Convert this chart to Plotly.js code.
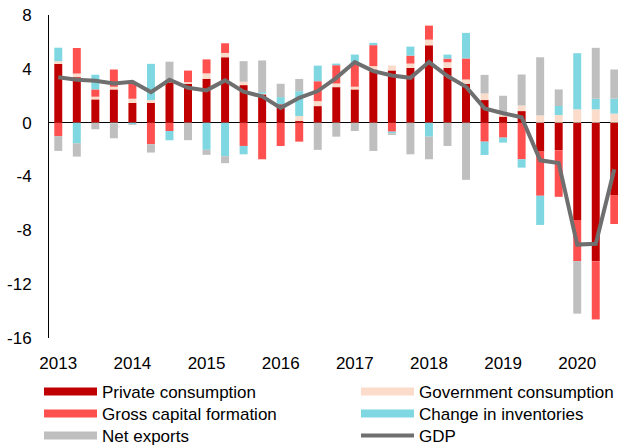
<!DOCTYPE html>
<html>
<head>
<meta charset="utf-8">
<script src="https://cdn.plot.ly/plotly-3.0.1.min.js"></script>
<style>html,body{margin:0;padding:0;background:#fff;}#chart{width:618px;height:448px;}</style>
</head>
<body>
<div id="chart"></div>
<script>
// Quarters 2013Q1 .. 2020Q3
const quarters = ["2013Q1","2013Q2","2013Q3","2013Q4","2014Q1","2014Q2","2014Q3","2014Q4",
  "2015Q1","2015Q2","2015Q3","2015Q4","2016Q1","2016Q2","2016Q3","2016Q4",
  "2017Q1","2017Q2","2017Q3","2017Q4","2018Q1","2018Q2","2018Q3","2018Q4",
  "2019Q1","2019Q2","2019Q3","2019Q4","2020Q1","2020Q2","2020Q3"];
const yearTickLabels = ["2013","2014","2015","2016","2017","2018","2019","2020"];
const yearTickQuarters = ["2013Q1","2014Q1","2015Q1","2016Q1","2017Q1","2018Q1","2019Q1","2020Q1"];
const yTickValues = [8,4,0,-4,-8,-12,-16];
const yTickLabels = ["8","4","0","-4","-8","-12","-16"];

const privateConsumption = [4.37,3.38,1.73,2.47,1.46,1.46,3.0,2.89,3.26,4.86,2.79,2.1,1.36,0.12,1.23,2.64,
  2.47,3.95,3.88,4.07,5.75,4.07,2.89,1.68,0.45,0.86,-2.15,-2.05,-7.23,-10.3,-5.38];
const governmentConsumption = [0.2,0.27,0.2,0.2,0.32,0.22,0.05,0.12,0.4,0.32,0.25,0.05,0.0,0.37,0.37,0.27,
  0.2,0.25,0.37,0.32,0.42,0.42,0.32,0.49,0.25,0.42,0.54,0.57,0.99,0.99,0.67];
const grossCapitalFormation = [-1.0,1.9,0.54,1.28,1.11,-1.6,-0.62,0.86,1.04,0.72,-1.73,-2.72,-1.73,-1.41,1.48,1.36,
  1.7,1.56,-0.67,0.59,1.04,0.27,1.56,-1.41,-1.11,-2.72,-3.28,-3.46,-3.06,-4.32,-2.15];
const changeInInventories = [1.0,-1.53,1.09,-0.05,-0.12,2.69,-0.69,0.0,-2.02,-2.49,-0.62,0.12,0.54,1.85,1.16,0.12,
  0.69,0.17,-0.12,0.67,-1.04,0.3,1.9,-0.99,-0.37,-0.62,-2.17,0.67,4.17,0.79,1.11];
const netExports = [-1.1,-0.99,-0.49,-1.11,-0.05,-0.62,1.48,-1.3,-0.37,-0.52,1.53,2.35,0.99,0.91,-2.02,-1.04,
  -0.62,-2.1,-0.12,-2.35,-1.68,-1.73,-4.25,1.38,1.3,2.3,4.32,1.23,-3.9,3.78,2.17];
const gdp = [3.38,3.19,3.11,2.91,3.04,2.27,3.19,2.59,2.4,3.14,2.3,1.95,1.1,1.85,2.35,3.33,
  4.5,3.83,3.5,3.33,4.5,3.46,2.67,1.06,0.7,0.4,-2.8,-3.0,-9.06,-9.0,-3.46];

const seriesNames = ["Private consumption","Government consumption","Gross capital formation","Change in inventories","Net exports"];
const seriesValues = [privateConsumption, governmentConsumption, grossCapitalFormation, changeInInventories, netExports];
const seriesColors = ["#C00000","#FBDCCA","#FF5050","#7FD7E1","#BFBFBF"];
const gdpColor = "#6F6F6F";

const xIdx = quarters.map((q,i)=>i);
const tickIdx = yearTickQuarters.map(q=>quarters.indexOf(q));

const traces = [];
seriesNames.forEach((name,k)=>{
  traces.push({
    type:'bar', x:xIdx, y:seriesValues[k], name:name, legendgroup:name,
    showlegend:false, width:0.43,
    marker:{color:seriesColors[k], line:{width:0}},
    hovertemplate: name + ': %{y}<extra></extra>'
  });
});
traces.push({
  type:'scatter', mode:'lines', x:xIdx, y:gdp, name:'GDP', legendgroup:'GDP', showlegend:false,
  line:{color:gdpColor, width:4}
});

const font = {family:'"Liberation Sans", Arial, sans-serif', size:17, color:'#000'};

// legend entries: name, colour, line width, and grid slot (column, row)
const legendEntries = [
  {name:"Private consumption", color:seriesColors[0], w:8, col:0, row:0},
  {name:"Government consumption", color:seriesColors[1], w:8, col:1, row:0},
  {name:"Gross capital formation", color:seriesColors[2], w:8, col:0, row:1},
  {name:"Change in inventories", color:seriesColors[3], w:8, col:1, row:1},
  {name:"Net exports", color:seriesColors[4], w:8, col:0, row:2},
  {name:"GDP", color:gdpColor, w:4, col:1, row:2}
];
const colX = [39, 356];
const rowY = [392, 414, 436];

const layout = {
  width:618, height:448,
  margin:{l:49, r:0, t:15, b:110, autoexpand:false},
  paper_bgcolor:'#fff', plot_bgcolor:'#fff',
  barmode:'relative', font:font,
  xaxis:{range:[-0.5,30.2], tickvals:tickIdx, ticktext:yearTickLabels, showgrid:false,
    showline:false, zeroline:false, ticks:'', ticklabelstandoff:13, tickfont:font, fixedrange:true, automargin:false},
  yaxis:{range:[-16,8], tickvals:yTickValues, ticktext:yTickLabels, showgrid:false, showline:true, linecolor:'#000', linewidth:1,
    zeroline:true, zerolinecolor:'#000', zerolinewidth:1.5, ticks:'', ticklabelstandoff:13, tickfont:font, fixedrange:true, automargin:false},
  showlegend:true
};

legendEntries.forEach((e,i)=>{
  const key = i===0 ? 'legend' : 'legend'+(i+1);
  traces.push({type:'scatter', mode:'lines', x:[null], y:[null], name:e.name, legendgroup:e.name,
    legend:key, showlegend:true, line:{color:e.color, width:e.w}, hoverinfo:'skip'});
  layout[key] = {xref:'container', yref:'container', x:colX[e.col]/618, xanchor:'left',
    y:1-rowY[e.row]/448, yanchor:'middle', font:font, itemwidth:53, bgcolor:'rgba(0,0,0,0)',
    borderwidth:0};
});

Plotly.newPlot('chart', traces, layout, {displayModeBar:false, staticPlot:true});
</script>
</body>
</html>
